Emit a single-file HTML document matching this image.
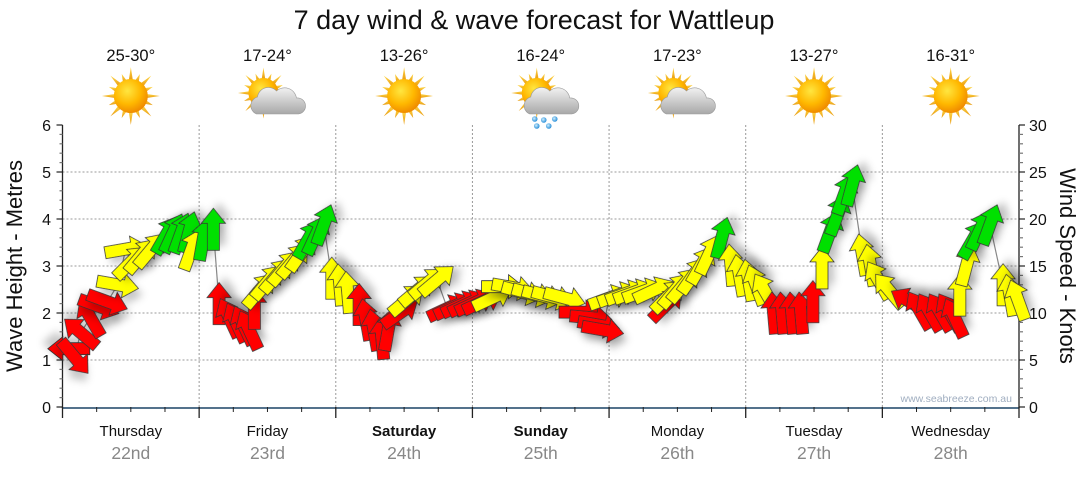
<!DOCTYPE html>
<html><head><meta charset="utf-8">
<style>
html,body{margin:0;padding:0;background:#fff;}
body{width:1080px;height:475px;overflow:hidden;font-family:"Liberation Sans",sans-serif;}
svg text{font-family:"Liberation Sans",sans-serif;}
</style></head>
<body>
<svg id="chart" width="1080" height="475" viewBox="0 0 1080 475" xmlns="http://www.w3.org/2000/svg">
<defs>
<filter id="sh" x="-50%" y="-50%" width="200%" height="200%"><feDropShadow dx="5" dy="6" stdDeviation="4" flood-color="#000" flood-opacity="0.22"/></filter>
<radialGradient id="sunG" cx="40%" cy="35%" r="65%"><stop offset="0" stop-color="#ffe640"/><stop offset="0.6" stop-color="#ffb800"/><stop offset="1" stop-color="#f08c00"/></radialGradient>
<linearGradient id="rayG" x1="0" y1="0" x2="0" y2="1"><stop offset="0" stop-color="#ffd84a"/><stop offset="1" stop-color="#e89a10"/></linearGradient>
<linearGradient id="cloudG" x1="0" y1="0" x2="0" y2="1"><stop offset="0" stop-color="#f2f2f2"/><stop offset="1" stop-color="#a8a8a8"/></linearGradient>
<radialGradient id="dropG" cx="40%" cy="40%" r="60%"><stop offset="0" stop-color="#cfefff"/><stop offset="1" stop-color="#2a8fd8"/></radialGradient>
</defs>
<text x="534" y="29" text-anchor="middle" font-size="27" fill="#111">7 day wind &amp; wave forecast for Wattleup</text>
<g id="icons"></g>
<g id="grid"></g>
<g id="axes"></g>
<text x="1012" y="402" text-anchor="end" font-size="10.5" fill="#a0aec0">www.seabreeze.com.au</text>
<g id="marks"></g>
<text transform="translate(22,266) rotate(-90)" text-anchor="middle" font-size="22" fill="#111">Wave Height - Metres</text>
<text transform="translate(1060,266) rotate(90)" text-anchor="middle" font-size="22" fill="#111">Wind Speed - Knots</text>
</svg>
<script>
const days = ["Thursday","Friday","Saturday","Sunday","Monday","Tuesday","Wednesday"];
const dates = ["22nd","23rd","24th","25th","26th","27th","28th"];
const boldDays = [false,false,true,true,false,false,false];
const temps = ["25-30°","17-24°","13-26°","16-24°","17-23°","13-27°","16-31°"];
const weather = ["sun","cloud","sun","rain","cloud","sun","sun"];
const waveTicks = [0,1,2,3,4,5,6];
const windTicks = [0,5,10,15,20,25,30];
// wind data: hours from Thursday 00:00, knots, arrow heading (screen degrees, 0=right, -90=up), colour class
const hours = [1.1,2.1,3.2,4.9,6.4,7.9,9.7,11.1,12.0,13.8,15.5,18.2,19.4,20.8,22.2,22.6,24.7,26.5,
27.5,29.3,30.5,31.8,32.8,33.7,34.6,36.0,37.6,39.0,40.6,42.0,43.1,44.5,45.9,47.3,48.7,50.1,
52.1,53.3,54.7,56.1,57.2,59.3,60.5,62.3,64.1,65.8,67.6,68.8,70.1,71.3,72.5,73.8,
75.5,77.3,79.1,80.8,82.6,84.4,86.1,88.2,90.9,92.8,94.2,94.9,
96.0,97.6,99.0,100.4,102.0,103.8,106.1,106.4,107.6,109.1,110.8,112.2,113.5,115.8,117.4,118.9,
120.5,121.8,123.5,124.9,126.4,128.1,129.7,131.8,133.4,134.8,136.1,137.3,138.7,140.5,141.9,143.3,
145.2,148.8,150.5,152.3,154.1,155.8,156.7,157.6,158.8,159.9,161.1,162.9,165.2,166.4,167.8];
const knots = [6.2,5.3,7.9,9.5,10.7,11.2,13.0,16.8,15.4,16.1,16.7,18.3,18.5,18.5,18.6,16.7,17.8,18.9,
11.0,9.5,9.0,8.7,8.2,10.5,12.4,13.3,14.0,14.8,15.6,16.4,17.8,18.3,19.4,13.7,13.0,12.2,
10.9,9.3,8.2,7.3,8.2,10.0,11.4,12.4,13.2,13.5,10.5,10.7,10.9,11.0,11.1,11.2,
11.6,12.8,12.7,12.2,12.0,11.8,11.7,11.6,10.1,9.5,8.7,8.2,
11.6,11.9,12.1,12.2,12.3,12.4,10.9,11.8,12.4,13.0,14.0,15.1,16.2,18.0,15.1,14.0,
13.5,13.0,12.2,10.0,10.0,10.0,10.0,11.2,14.8,18.6,20.4,22.6,23.6,16.2,15.1,13.5,
12.4,11.2,10.3,10.1,10.1,10.1,9.5,11.9,15.1,17.8,18.8,19.4,13.0,11.9,11.4];
const heading = [180,50,-140,-120,20,20,10,-10,-45,-50,-50,-60,-65,-70,-75,-70,-80,-90,
-90,-115,-115,-115,-115,-90,-50,-50,-50,-50,-50,-55,-60,-65,-70,-90,-95,-95,
-90,-100,-100,-95,-80,-35,-40,-40,-40,-40,-25,-25,-25,-25,-25,-25,
-25,0,10,15,15,15,15,15,0,5,10,10,
-20,-20,-20,-20,-20,-25,-45,-45,-50,-50,-55,-60,-65,-75,-95,-100,
-100,-110,-120,-95,-95,-95,-95,-90,-90,-70,-70,-70,-75,-100,-100,-120,
-130,-150,-120,-120,-120,-120,-115,-90,-75,-60,-65,-70,-90,-100,-110];
const colour = ["R","R","R","R","R","R","Y","Y","Y","Y","Y","G","G","G","G","Y","G","G",
"R","R","R","R","R","R","Y","Y","Y","Y","Y","Y","G","G","G","Y","Y","Y",
"R","R","R","R","R","R","Y","Y","Y","Y","R","R","R","R","R","R",
"Y","Y","Y","Y","Y","Y","Y","Y","R","R","R","R",
"Y","Y","Y","Y","Y","Y","R","Y","Y","Y","Y","Y","Y","G","Y","Y",
"Y","Y","Y","R","R","R","R","R","Y","G","G","G","G","Y","Y","Y",
"Y","R","R","R","R","R","R","Y","Y","G","G","G","Y","Y","Y"];

const NS="http://www.w3.org/2000/svg";
const X0=62.5, X1=1019, YT=125, YB=407;
const DAYW=(X1-X0)/7;
function xT(h){return X0+h/24*DAYW;}
function yWave(m){return YB-(YB-YT)*m/6;}
function yWind(k){return YB-(YB-YT)*k/30;}
function mk(tag,attrs,parent){const e=document.createElementNS(NS,tag);for(const k in attrs)e.setAttribute(k,attrs[k]);parent.appendChild(e);return e;}
const fills={R:"#ff0000",Y:"#ffff00",G:"#00e000"};

// grid
const grid=document.getElementById('grid');
for(let i=1;i<=5;i++){const l=mk('line',{x1:X0,x2:X1,y1:yWave(i),y2:yWave(i),stroke:'#999','stroke-width':1,'stroke-dasharray':'2,2'},grid);

}
for(let d=1;d<7;d++){const x=X0+d*DAYW;const l=mk('line',{x1:x,x2:x,y1:YT,y2:YB,stroke:'#999','stroke-width':1,'stroke-dasharray':'2,2'},grid);

}

// axes
const ax=document.getElementById('axes');
mk('line',{x1:X0,x2:X0,y1:YT,y2:YB+1,stroke:'#222','stroke-width':1.3},ax);
mk('line',{x1:X1,x2:X1,y1:YT,y2:YB+1,stroke:'#222','stroke-width':1.3},ax);
mk('line',{x1:X0,x2:X1,y1:YB+1,y2:YB+1,stroke:'#1c4466','stroke-width':1.5},ax);
for(let v=0;v<=6.001;v+=0.2){const y=yWave(v);const major=Math.abs(v-Math.round(v))<0.01;mk('line',{x1:major?X0-6:X0-3,x2:X0,y1:y,y2:y,stroke:major?'#222':'#777','stroke-width':1.2},ax);}
waveTicks.forEach(v=>{const t=mk('text',{x:51,y:yWave(v)+6,'text-anchor':'end','font-size':16,fill:'#111'},ax);t.textContent=v;

});
for(let k=0;k<=30;k++){const y=yWind(k);const major=k%5==0;mk('line',{x1:X1,x2:major?X1+6:X1+4,y1:y,y2:y,stroke:major?'#222':'#777','stroke-width':1.2},ax);}
windTicks.forEach(v=>{const t=mk('text',{x:1029,y:yWind(v)+6,'font-size':16,fill:'#111'},ax);t.textContent=v;

});
for(let d=0;d<=7;d++){const x=X0+d*DAYW;mk('line',{x1:x,x2:x,y1:YB,y2:YB+11,stroke:'#222','stroke-width':1.3},ax);
 if(d<7)for(let q=1;q<4;q++){const xx=x+q*DAYW/4;mk('line',{x1:xx,x2:xx,y1:YB,y2:YB+5,stroke:'#222','stroke-width':1},ax);}}
days.forEach((d,i)=>{const cx=X0+(i+0.5)*DAYW;
 const t=mk('text',{x:cx,y:436,'text-anchor':'middle','font-size':15,fill:'#111','font-weight':boldDays[i]?'bold':'normal'},ax);t.textContent=d;
 
 
 const t2=mk('text',{x:cx,y:459,'text-anchor':'middle','font-size':17.5,fill:'#888'},ax);t2.textContent=dates[i];
 
 });

// icons
const ic=document.getElementById('icons');
function sun(g,cx,cy,r){
 for(let i=0;i<16;i++){const a=i*Math.PI/8;const L=(i%2==0)?r*1.7:r*1.4;const w=0.14;
  const p=[[cx+Math.cos(a)*L,cy+Math.sin(a)*L],[cx+Math.cos(a+w)*r*0.9,cy+Math.sin(a+w)*r*0.9],[cx+Math.cos(a-w)*r*0.9,cy+Math.sin(a-w)*r*0.9]];
  mk('polygon',{points:p.map(q=>q.join(',')).join(' '),fill:'url(#rayG)'},g);}
 mk('circle',{cx:cx,cy:cy,r:r,fill:'url(#sunG)'},g);}
function cloud(g,cx,cy){
 mk('path',{d:`M${cx-20},${cy+13} a9,9 0 0 1 1,-17 a11,11 0 0 1 19,-6 a12,12 0 0 1 20,7 a8,8 0 0 1 2,16 z`,fill:'url(#cloudG)',stroke:'#999','stroke-width':0.6},g);}
temps.forEach((t,i)=>{const cx=X0+(i+0.5)*DAYW;
 const tx=mk('text',{x:cx,y:61,'text-anchor':'middle','font-size':16.5,fill:'#111'},ic);tx.textContent=t;
 
 
 const g=mk('g',{},ic);
 
 
 if(weather[i]=='sun'){sun(g,cx,96,17);}
 else{sun(g,cx-4,93,15);cloud(g,cx+9,101);
  if(weather[i]=='rain'){[[-6,119],[3,120],[14,119],[-4,126],[8,126]].forEach(p=>mk('circle',{cx:cx+p[0],cy:p[1],r:2.8,fill:'url(#dropG)'},g));}}
});

// wind arrows
const mg=document.getElementById('marks');
const pts=hours.map((h,i)=>[xT(h),yWind(knots[i])]);
const ln=mk('polyline',{points:pts.map(p=>p.join(',')).join(' '),fill:'none',stroke:'#888','stroke-width':1.2},mg);


const shape="M-21,-6 L6,-6 L6,-12 L21,0 L6,12 L6,6 L-21,6 Z";
hours.forEach((h,i)=>{const [x,y]=pts[i];
 const a=mk('path',{d:shape,transform:`translate(${x.toFixed(1)},${y.toFixed(1)}) rotate(${heading[i]})`,fill:fills[colour[i]],stroke:'#333','stroke-width':0.8,filter:'url(#sh)'},mg);
 
 
});
</script>
</body></html>
